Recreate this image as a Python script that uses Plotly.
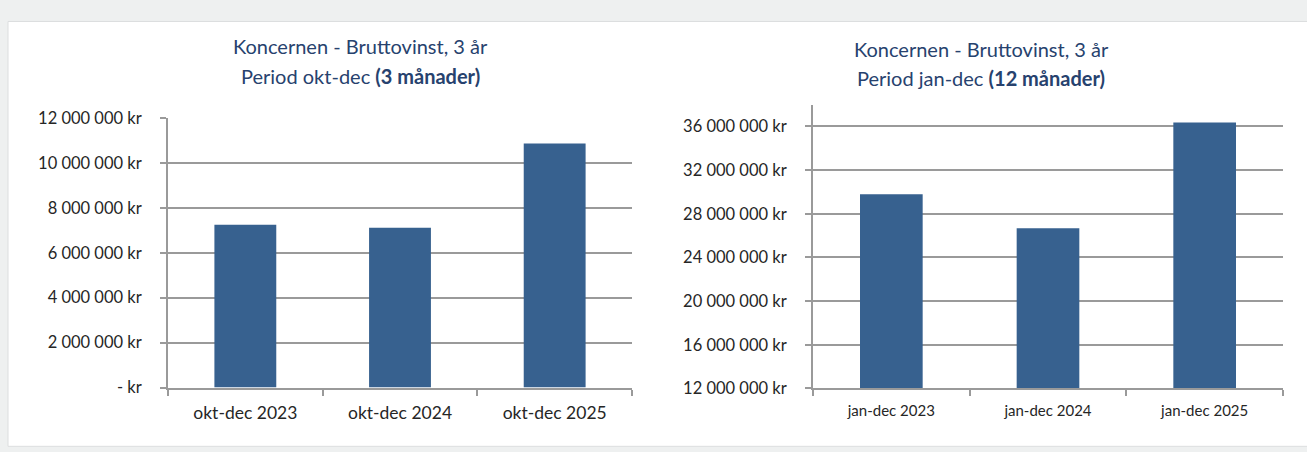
import plotly.graph_objects as go

# ---- data ----
cats_q = ["okt-dec 2023", "okt-dec 2024", "okt-dec 2025"]
vals_q = [7250000, 7110000, 10870000]

cats_y = ["jan-dec 2023", "jan-dec 2024", "jan-dec 2025"]
vals_y = [29780000, 26680000, 36370000]

ytick_vals_q = [0, 2000000, 4000000, 6000000, 8000000, 10000000, 12000000]
ytick_text_q = ["- kr", "2 000 000 kr", "4 000 000 kr", "6 000 000 kr",
                "8 000 000 kr", "10 000 000 kr", "12 000 000 kr"]

ytick_vals_y = [12000000, 16000000, 20000000, 24000000, 28000000, 32000000, 36000000]
ytick_text_y = ["12 000 000 kr", "16 000 000 kr", "20 000 000 kr", "24 000 000 kr",
                "28 000 000 kr", "32 000 000 kr", "36 000 000 kr"]

title1_l1 = "Koncernen - Bruttovinst, 3 år"
title1_l2 = "Period okt-dec <b>(3 månader)</b>"
title2_l1 = "Koncernen - Bruttovinst, 3 år"
title2_l2 = "Period jan-dec <b>(12 månader)</b>"

# ---- layout helpers ----
W, H = 1307, 452
def px(x):
    return x / W
def py(y):
    return 1 - y / H

BAR = "#37618f"
GRID = "#9a9a9a"
TXT = "#262626"
TITLE = "#27426e"
FONT = "Lato, Roboto, sans-serif"

fig = go.Figure()
fig.add_trace(go.Bar(x=cats_q, y=vals_q, marker_color=BAR, marker_line_width=0,
                     xaxis="x", yaxis="y", showlegend=False, hoverinfo="skip"))
fig.add_trace(go.Bar(x=cats_y, y=vals_y, marker_color=BAR, marker_line_width=0,
                     xaxis="x2", yaxis="y2", showlegend=False, hoverinfo="skip"))

common_x = dict(type="category", showgrid=False, showline=True, linecolor=GRID, linewidth=2,
                ticks="outside", ticklen=6, tickwidth=2, tickcolor=GRID, tickson="boundaries",
                zeroline=False, fixedrange=True)
common_y = dict(showgrid=True, gridcolor=GRID, gridwidth=2, showline=True, linecolor=GRID,
                linewidth=2, ticks="outside", ticklen=6, tickwidth=2, tickcolor=GRID,
                zeroline=False, tickmode="array", fixedrange=True)

fig.update_layout(
    width=W, height=H,
    autosize=False,
    margin=dict(l=0, r=0, t=0, b=0),
    paper_bgcolor="#eef0f0",
    plot_bgcolor="rgba(0,0,0,0)",
    bargap=0.6,
    font=dict(family=FONT, color=TXT),
    xaxis=dict(domain=[px(168), px(632)], anchor="y",
               tickfont=dict(size=17.5, family=FONT, color=TXT), ticklabelstandoff=8, **common_x),
    yaxis=dict(domain=[py(395), py(113)], anchor="x", range=[0, 12000000],
               tickvals=ytick_vals_q, ticktext=ytick_text_q,
               tickfont=dict(size=16.5, family=FONT, color=TXT), ticklabelstandoff=15, **common_y),
    xaxis2=dict(domain=[px(813), px(1283)], anchor="y2",
                tickfont=dict(size=15, family=FONT, color=TXT), ticklabelstandoff=8, **common_x),
    yaxis2=dict(domain=[py(396), py(99)], anchor="x2", range=[12000000, 38000000],
                tickvals=ytick_vals_y, ticktext=ytick_text_y,
                tickfont=dict(size=16.5, family=FONT, color=TXT), ticklabelstandoff=15, **common_y),
    shapes=[dict(type="rect", xref="paper", yref="paper", x0=px(8), x1=1.01, y0=-0.01, y1=py(12),
                 fillcolor="white", line=dict(color="#dcdedf", width=1), layer="below")],
    annotations=[
        dict(text=title1_l1, x=px(360), y=py(38), xref="paper", yref="paper", showarrow=False,
             xanchor="center", yanchor="middle", font=dict(size=20, color=TITLE, family=FONT)),
        dict(text=title1_l2, x=px(360), y=py(69), xref="paper", yref="paper", showarrow=False,
             xanchor="center", yanchor="middle", font=dict(size=20, color=TITLE, family=FONT)),
        dict(text=title2_l1, x=px(981), y=py(41), xref="paper", yref="paper", showarrow=False,
             xanchor="center", yanchor="middle", font=dict(size=20, color=TITLE, family=FONT)),
        dict(text=title2_l2, x=px(981), y=py(71), xref="paper", yref="paper", showarrow=False,
             xanchor="center", yanchor="middle", font=dict(size=20, color=TITLE, family=FONT)),
    ],
)

fig.write_html(
    "out.html",
    config={"displayModeBar": False, "responsive": False},
    post_script="document.body.style.margin='0';document.body.style.overflow='hidden';",
)
